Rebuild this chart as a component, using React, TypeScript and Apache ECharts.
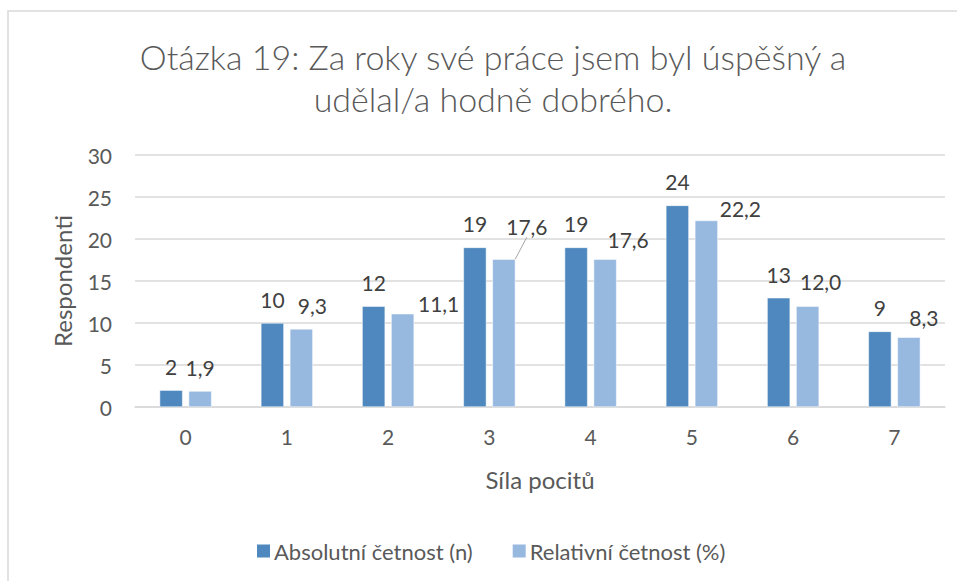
import React, { useEffect, useRef } from "react";
import * as echarts from "echarts";

const titleText = "Otázka 19: Za roky své práce jsem byl úspěšný a\nudělal/a hodně dobrého.";
const categories = ["0", "1", "2", "3", "4", "5", "6", "7"];
const absoluteValues = [2, 10, 12, 19, 19, 24, 13, 9];
const relativeValues = [1.9, 9.3, 11.1, 17.6, 17.6, 22.2, 12.0, 8.3];
const seriesNames = ["Absolutní četnost (n)", "Relativní četnost (%)"];
const yAxisName = "Respondenti";
const xAxisName = "Síla pocitů";

// label nudges (px) for the relative series, as placed in the reference
const relLabelNudge: [number, number][] = [
  [0, 0], [11, 0], [36, 13], [23, -9], [23, 4], [34, 11], [13, -1], [15, 4],
];
const leaderLineIndex = 3;

const FONT = "Lato, 'Open Sans', sans-serif";
const GREY = "#595959";

export default function App() {
  const ref = useRef<HTMLDivElement>(null);
  useEffect(() => {
    if (!ref.current) return;
    const chart = echarts.init(ref.current, undefined, { renderer: "svg" });
    chart.setOption({
      animation: false,
      textStyle: { fontFamily: FONT },
      graphic: [
        {
          type: "rect",
          shape: { x: 8, y: 11, width: 960, height: 580 },
          style: { fill: "none", stroke: "#D9D9D9", lineWidth: 1.5 },
          silent: true,
        },
      ],
      title: {
        text: titleText,
        left: 488,
        top: 30,
        textAlign: "center",
        textStyle: {
          fontFamily: FONT,
          fontSize: 34,
          fontWeight: 300,
          color: GREY,
          lineHeight: 42,
        },
      },
      legend: {
        top: 535,
        left: 250,
        itemWidth: 15,
        itemHeight: 15,
        itemGap: 38,
        icon: "rect",
        textStyle: { fontFamily: FONT, fontSize: 22, color: GREY, padding: [0, 0, 0, -2] },
        data: seriesNames,
      },
      grid: { left: 135, right: 12, top: 155, bottom: 174, containLabel: false },
      xAxis: {
        type: "category",
        data: categories,
        axisTick: { show: false },
        axisLine: { lineStyle: { color: "#D9D9D9", width: 1.5 } },
        axisLabel: { fontFamily: FONT, fontSize: 21, color: GREY, margin: 19 },
        name: xAxisName,
        nameLocation: "middle",
        nameGap: 60,
        nameTextStyle: { fontFamily: FONT, fontSize: 24, color: GREY },
      },
      yAxis: {
        type: "value",
        min: 0,
        max: 30,
        interval: 5,
        axisLine: { show: false },
        axisTick: { show: false },
        splitLine: { lineStyle: { color: "#D9D9D9", width: 1.5 } },
        axisLabel: { fontFamily: FONT, fontSize: 21, color: GREY, margin: 23 },
        name: yAxisName,
        nameLocation: "middle",
        nameRotate: 90,
        nameGap: 61,
        nameTextStyle: { fontFamily: FONT, fontSize: 24, color: GREY },
      },
      series: [
        {
          name: seriesNames[0],
          type: "bar",
          data: absoluteValues,
          barWidth: 23,
          barGap: "26%",
          itemStyle: { color: "#4F88BE", borderColor: "#FFFFFF", borderWidth: 0.5 },
          label: {
            show: true,
            position: "top",
            distance: 13,
            fontFamily: FONT,
            fontSize: 21,
            color: "#404040",
          },
        },
        {
          name: seriesNames[1],
          type: "bar",
          data: relativeValues.map((v, i) => ({
            value: v,
            labelLine: { show: i === leaderLineIndex },
          })),
          barWidth: 23,
          itemStyle: { color: "#97B9E0", borderColor: "#FFFFFF", borderWidth: 0.5 },
          label: {
            show: true,
            position: "top",
            distance: 13,
            fontFamily: FONT,
            fontSize: 21,
            color: "#404040",
            formatter: (p: any) => Number(p.value).toFixed(1).replace(".", ","),
          },
          labelLine: { show: false, lineStyle: { color: "#A6A6A6", width: 1 } },
          labelLayout: (params: any) => {
            const n = relLabelNudge[params.dataIndex] || [0, 0];
            return { dx: n[0], dy: n[1] };
          },
        },
      ],
    });
    return () => chart.dispose();
  }, []);
  return (
    <div
      ref={ref}
      style={{ position: "absolute", left: 0, top: 0, width: 957, height: 581, background: "#fff" }}
    />
  );
}
